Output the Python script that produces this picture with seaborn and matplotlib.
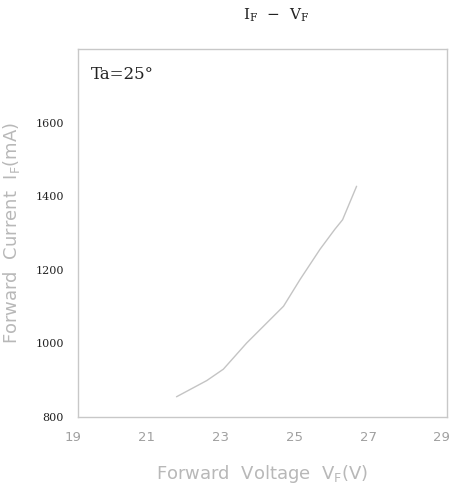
import matplotlib
matplotlib.use("Agg")
import matplotlib.pyplot as plt
import matplotlib.transforms as mtransforms
import seaborn as sns
import pandas as pd

sns.set_theme(style="white")
plt.rcParams['font.family'] = ['DejaVu Sans']
plt.rcParams['mathtext.fontset'] = 'dejavuserif'

vf = [21.67, 22.49, 22.94, 23.57, 24.57, 25.02, 25.56, 25.96, 26.17, 26.55]
if_ma = [855, 899, 930, 1001, 1101, 1174, 1256, 1310, 1336, 1427]
x_ticks = [19, 21, 23, 25, 27, 29]
y_ticks = [800, 1000, 1200, 1400, 1600]

df = pd.DataFrame({"VF": vf, "IF": if_ma})

fig = plt.figure(figsize=(4.5, 4.93), dpi=100)
ax = fig.add_axes([78/450, 1-417/493, (447-78)/450, (417-49)/493])
sns.lineplot(data=df, x="VF", y="IF", ax=ax, color="#c4c4c4", linewidth=1.0, sort=False)

ax.set_xlim(19, 29)
ax.set_ylim(800, 1800)
ax.set_xticks(x_ticks)
ax.set_yticks(y_ticks)
ax.set_xticklabels([str(t) for t in x_ticks], color="#a0a0a0", fontsize=9.5, fontfamily="DejaVu Sans")
ax.set_yticklabels([str(t) for t in y_ticks], color="#222222", fontsize=8, fontfamily="DejaVu Serif")
ax.tick_params(axis='x', length=0, pad=10)
ax.tick_params(axis='y', length=0, pad=10)
offset = mtransforms.ScaledTranslation(-5/100, 0, fig.dpi_scale_trans)
labels = ax.get_xticklabels()
for i, lab in enumerate(labels):
    lab.set_transform(lab.get_transform() + offset)
labels[-1].set_horizontalalignment('right')
labels[-1].set_transform(labels[-1].get_transform() + mtransforms.ScaledTranslation(8/100, 0, fig.dpi_scale_trans))

for s in ax.spines.values():
    s.set_color("#c8c8c8")
    s.set_linewidth(1.0)

ax.set_xlabel("Forward  Voltage  V$_\\mathregular{F}$(V)", color="#b8b8b8", fontsize=13, labelpad=14)
ax.set_ylabel("Forward  Current  I$_\\mathregular{F}$(mA)", color="#b8b8b8", fontsize=13, labelpad=10)

ax.text(0.035, 0.955, "Ta=25°", transform=ax.transAxes, fontsize=12, fontfamily="DejaVu Serif",
        color="#222222", va="top", ha="left")

fig.text(276/450, 1-15/493, "I$_\\mathregular{F}$  −  V$_\\mathregular{F}$", fontsize=11,
         fontfamily="DejaVu Serif", color="#222222", ha="center", va="center")

fig.savefig("out.png", dpi=100, facecolor="white")
